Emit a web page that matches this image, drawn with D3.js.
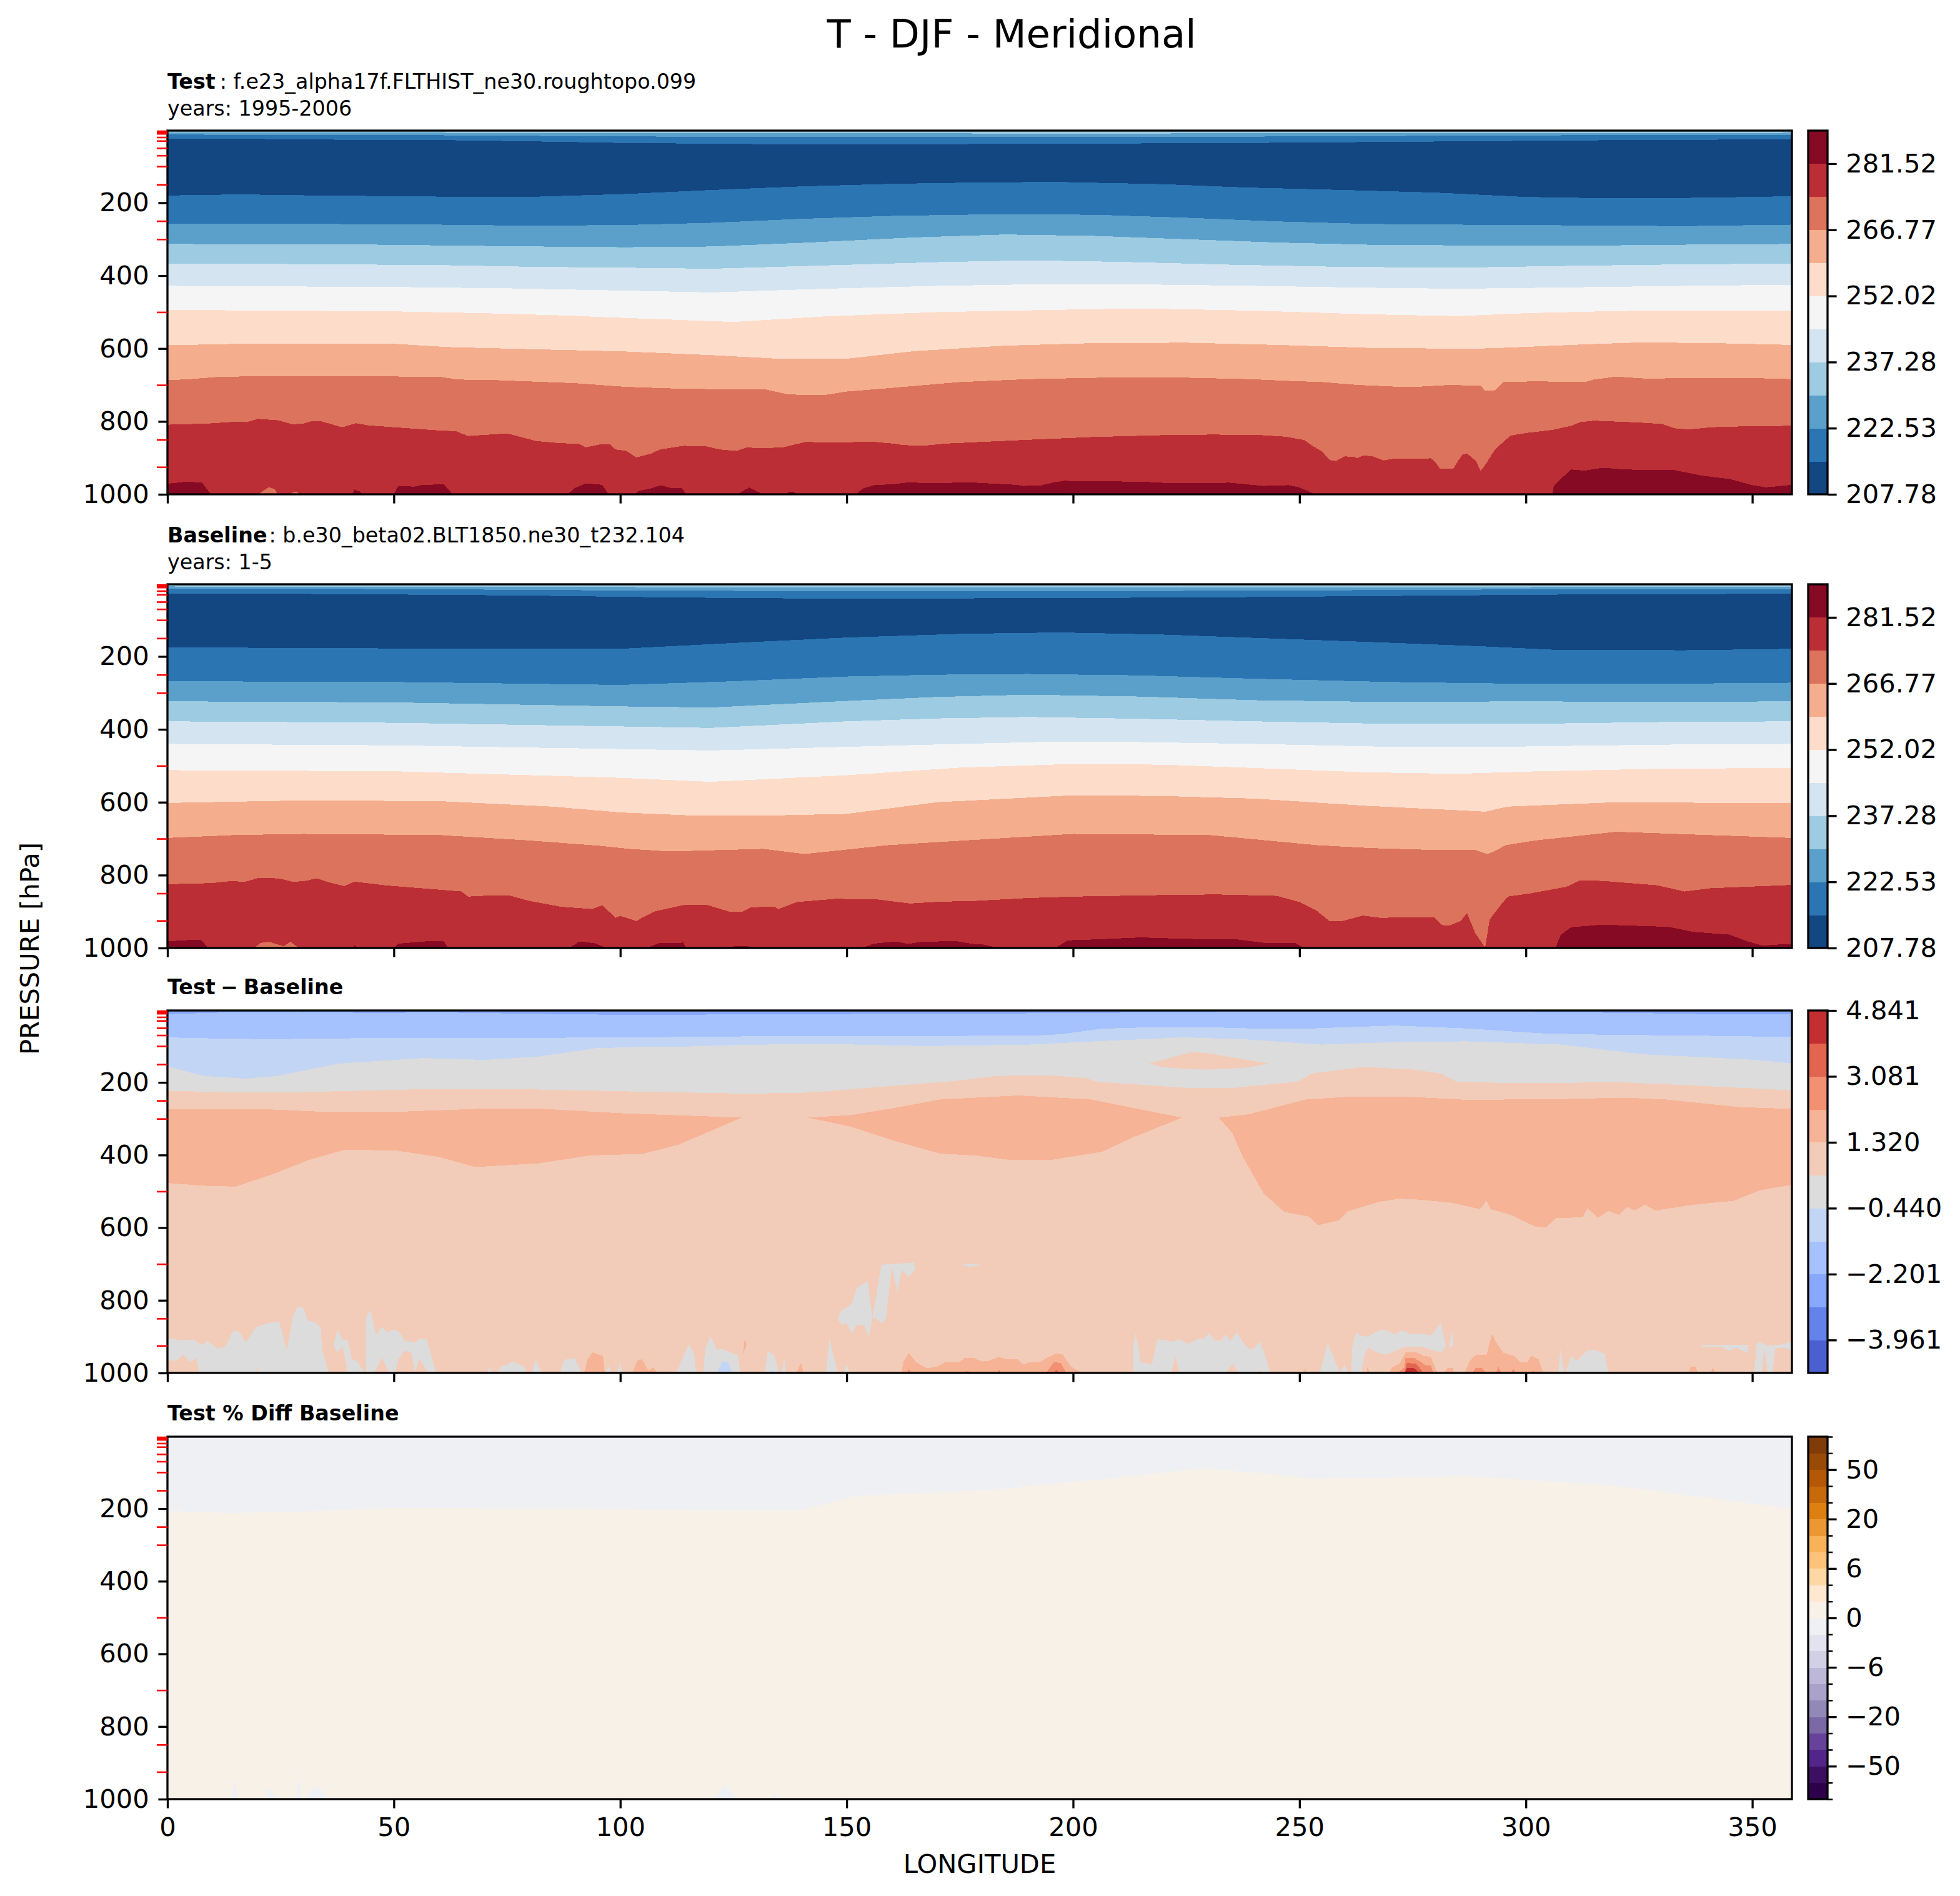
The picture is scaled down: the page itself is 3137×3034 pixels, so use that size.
<!DOCTYPE html>
<html>
<head>
<meta charset="utf-8">
<script src="https://cdn.jsdelivr.net/npm/d3@7"></script>
<style>
body { margin: 0; background: #fff; }
text { font-family: "DejaVu Sans", sans-serif; fill: #000; }
</style>
</head>
<body>
<svg id="drawing_region"></svg>
<script>
// axis values
const lonTicks = [0, 50, 100, 150, 200, 250, 300, 350];
const pressureTicks = [200, 400, 600, 800, 1000];
const pressureLevels = [3, 5, 7, 10, 20, 30, 50, 70, 100, 150, 250, 300, 500, 700, 850, 925];

// colorbar levels and colours (lowest band first)
const fieldLevels = [207.78, 215.15, 222.53, 229.90, 237.28, 244.65, 252.02, 259.40, 266.77, 274.15, 281.52, 288.90];
const fieldTicks = [207.78, 222.53, 237.28, 252.02, 266.77, 281.52];
const fieldColors = ['#134782', '#2b75b3', '#5ba0ca', '#9dcbe2', '#d4e5f1', '#f5f5f5', '#fddcca', '#f4ae8d', '#dc735c', '#bc2e35', '#870a24'];

const diffLevels = [-4.841, -3.961, -3.081, -2.201, -1.320, -0.440, 0.440, 1.320, 2.201, 3.081, 3.961, 4.841];
const diffTicks = [-3.961, -2.201, -0.440, 1.320, 3.081, 4.841];
const diffColors = ['#4a5fd0', '#6383ea', '#87a8fb', '#a5c2fe', '#c3d5f4', '#dcdcdc', '#f2ccb8', '#f6b396', '#f29072', '#e2654f', '#c32e31'];

const pctLevels = ['-100', '-75', '-50', '-40', '-30', '-20', '-15', '-10', '-6', '-4', '-2', '0', '2', '4', '6', '10', '15', '20', '30', '40', '50', '75', '100'];
const pctTicks = ['-50', '-20', '-6', '0', '6', '20', '50'];
const pctColors = ['#2d004b', '#3c0f60', '#53258a', '#66429a', '#7b69a6', '#9289b9', '#aaa2cb', '#bdb8da', '#d1d0e5', '#e2e3ee', '#eff0f4', '#f8f1e8', '#fee8cf', '#fed8a4', '#fec27a', '#f9b258', '#eb9733', '#dd8011', '#c66a0c', '#b35806', '#984a07', '#7f3b08'];

// test panel: contour edges as [longitude, pressure]
const testEdge1 = [[0,7],[60,8],[120,9],[200,10],[280,9],[358.75,8]];
const testEdge2 = [[0,13],[50,14],[100,18],[150,20],[200,20],[250,18],[300,15],[358.75,14]];
const testEdge3 = [[0,25],[20,25],[38,27],[60,28],[78,31],[101,36],[130,39],[160,40],[190,38],[220,37],[250,35],[280,32],[310,29],[340,27],[358.75,26]];
const testEdge4 = [[0,180],[16,177],[33,180],[60,183],[82,183],[101,176],[120,165],[140,155],[160,148],[180,144],[197,143],[220,149],[238,158],[260,165],[280,172],[300,184],[320,188],[340,186],[358.75,182]];
const testEdge5 = [[0,258],[33,258],[60,260],[80,263],[101,261],[120,255],[140,244],[160,236],[185,231],[205,233],[225,241],[245,251],[265,258],[285,260],[310,262],[335,264],[358.75,260]];
const testEdge6 = [[0,313],[47,315],[60,317],[82,320],[101,322],[120,320],[140,310],[165,295],[185,287],[205,291],[225,300],[245,309],[265,315],[285,317],[310,318],[335,315],[358.75,313]];
const testEdge7 = [[0,367],[25,368],[60,371],[82,376],[101,378],[120,381],[145,372],[170,363],[190,358],[210,362],[235,370],[260,376],[285,378],[310,373],[335,369],[358.75,367]];
const testEdge8 = [[0,428],[50,431],[76,435],[101,441],[120,446],[145,436],[170,428],[195,423],[215,424],[240,428],[265,433],[285,436],[310,432],[335,428],[358.75,425]];
const testEdge9 = [[0,494],[50,498],[70,503],[87,509],[101,516],[125,527],[145,512],[170,500],[195,494],[215,490],[240,496],[265,506],[285,511],[300,503],[320,497],[340,495],[358.75,495]];
const testEdge10 = [[0,591],[20,586],[50,587],[62,596],[78,601],[101,608],[120,618],[135,628],[150,628],[165,607],[185,592],[205,585],[225,584],[245,590],[265,598],[281,600],[290,600],[295,598],[314,588],[326,583],[345,586],[358.75,590]];
const testEdge11 = [[0,687],[5,684],[11,678],[19,676],[60,677],[64,685],[73,687],[90,695],[101,705],[112.5,710],[124,712],[132,712],[136.7,725],[141,728],[145,728],[150,718],[159,709],[175,692],[190,684],[210,679],[225,680],[239,684],[248,689],[255,692],[263,700],[272,705],[276,705],[283,700],[290,702],[291,716],[293,716],[294,705],[295,692],[302,690],[313,692],[315,685],[320,677],[327,683],[334,681],[350,681],[358.75,684]];
const testEdge12 = [[0,809],[8.7,806],[15,801],[17.5,802],[20,793],[24.5,797],[27.6,808],[30,806],[32,799],[34,800],[38.6,816],[41.7,805],[44.4,811],[50,816],[59,824],[63.7,827],[66.4,840],[75,833],[81.5,854],[87,860],[90.8,861],[92.4,871],[96,862],[97.7,863],[99,877],[101.4,881],[103.5,899],[106.7,889],[108.8,877],[114,867],[118.8,868],[122,877],[125.7,881],[127.8,872],[132.5,873],[136,871],[141,856],[144.7,858],[150.5,857],[155.8,856],[160.5,861],[162.6,865],[166.8,867],[171.6,861],[182,855],[192.7,849],[204,843],[219,838],[231,836],[242,838],[247,842],[251,851],[253,868],[255,883],[256.7,906],[258,909],[260,896],[262,897],[262.7,901],[264,894],[266,895],[268.6,907],[271,902],[277,903],[279,901],[280,912],[281,929],[284,929],[285,909],[286,891],[287,888],[289,909],[290,936],[291,920],[293,880],[294.6,861],[296.6,839],[300,832],[306,823],[310,812],[312,802],[315,798],[321,801],[325,803],[330,807],[333,819],[336,822],[341,816],[349.7,813],[358.75,812]];
const testWarmest = [
    [[0,1000],[0,971],[3.7,966],[7.6,967],[9.6,1000]],
    [[40.8,1000],[41.3,987],[42.6,993],[42.9,1000]],
    [[50,1000],[51,977],[54.5,979],[56,975],[61,972],[63,1000]],
    [[88.4,1000],[89.8,984],[92.4,970],[96,974],[97.4,1000]],
    [[103.2,1000],[104,991],[107,983],[109,975],[110.9,982],[113.5,982],[114.6,1000]],
    [[125.9,1000],[128.5,981],[131.5,1000]],
    [[136.5,1000],[137.3,993],[138.3,993],[139,1000]],
    [[152,1000],[153.6,984],[156.3,974],[160,973],[163.7,967],[168.4,970],[176.9,967],[184.3,972],[187.5,974],[189,977],[192.7,976],[195.9,967],[198,963],[211.7,965],[216,965],[218,968],[229.7,970],[234.4,968],[242,977],[247.6,975],[250,981],[253.5,1000]],
    [[273.4,1000],[273.8,997],[275,1000]],
    [[305.8,1000],[306.2,976],[308.5,949],[310,932],[313,935],[317,927],[322,932],[333,934],[339,949],[345,958],[349.7,974],[353,981],[358.75,974],[358.75,1000]]
];
const testCooler = [
    [[20,1000],[22.4,980],[23.7,986],[24.3,1000]],
    [[26.8,1000],[28.3,992],[29.4,1000]]
];

// baseline panel
const baseEdge1 = [[0,8],[60,9],[120,10],[200,11],[280,10],[358.75,9]];
const baseEdge2 = [[0,14],[50,15],[100,19],[150,21],[200,21],[250,19],[300,16],[358.75,15]];
const baseEdge3 = [[0,27],[40,29],[80,33],[110,38],[150,42],[190,40],[230,38],[270,34],[310,30],[358.75,28]];
const baseEdge4 = [[0,175],[50,178],[100,179],[125,163],[150,148],[175,138],[197,134],[220,140],[238,148],[265,160],[290,172],[307,182],[335,183],[358.75,179]];
const baseEdge5 = [[0,268],[50,270],[100,278],[125,268],[150,255],[170,250],[190,248],[215,252],[240,261],[270,270],[300,275],[330,275],[358.75,272]];
const baseEdge6 = [[0,323],[50,326],[100,337],[120,340],[150,322],[170,311],[190,305],[215,310],[240,320],[270,325],[300,323],[330,325],[358.75,323]];
const baseEdge7 = [[0,378],[50,382],[100,392],[120,396],[150,378],[170,370],[190,366],[215,371],[240,378],[270,385],[300,385],[330,380],[358.75,378]];
const baseEdge8 = [[0,440],[50,444],[100,454],[120,458],[150,448],[175,440],[195,434],[215,435],[240,440],[270,448],[300,447],[330,442],[358.75,440]];
const baseEdge9 = [[0,512],[50,515],[100,533],[120,544],[150,526],[175,505],[200,495],[220,497],[240,506],[265,518],[285,522],[300,516],[330,508],[358.75,506]];
const baseEdge10 = [[0,602],[30,595],[60,597],[85,612],[100,628],[115,636],[135,636],[150,632],[170,600],[200,581],[220,583],[240,590],[265,610],[285,622],[291,626],[296,612],[320,600],[358.75,603]];
const baseEdge11 = [[0,698],[15,690],[30,687],[60,690],[80,705],[95,719],[102,728],[111,735],[131.6,728],[140.7,742],[150,730],[159,718],[172,708],[200,687],[230,690],[254,718],[266,726],[277,730],[288.5,730],[291.4,742],[293,735],[295.5,718],[302,705],[320,681],[340,690],[358.75,698]];
const baseEdge12 = [[0,825],[9.7,822],[14.3,816],[17,819],[20,808],[24.6,809],[27.5,818],[30,817],[33,809],[36,821],[39,830],[41.4,818],[48,828],[57,837],[65,845],[66.4,859],[71,856],[75.5,856],[80,871],[87,887],[93.8,893],[96,883],[99,917],[100,912],[103.5,926],[107.5,900],[114.4,881],[119,881],[124,900],[127,900],[129,888],[134,887],[135,893],[139,874],[147.6,865],[157,867],[164,878],[170.5,873],[178,871],[190,863],[200,859],[219,855],[231.6,853],[245,857],[250,874],[253.7,897],[256.6,926],[259.5,926],[264,911],[267.6,917],[279.8,916],[281.5,937],[283,939],[285.6,926],[287,904],[288.8,959],[291,999],[292,922],[294.3,884],[296,859],[301,850],[309,832],[312,814],[317,816],[329,828],[335,845],[340.8,836],[358.75,827]];
const baseWarmest = [
    [[0,1000],[0,982],[3.4,979],[7.4,977],[9,1000]],
    [[41,1000],[41.2,993],[42.3,1000]],
    [[50,1000],[51,988],[57.8,981],[61,981],[62,1000]],
    [[88.7,1000],[91,982],[94.4,987],[97,1000]],
    [[105.8,1000],[108.5,987],[113.3,987],[113.8,983],[114.6,1000]],
    [[122.2,1000],[123,997],[127.6,994],[130,1000]],
    [[153.3,1000],[156,988],[161,982],[163.5,989],[166.5,983],[174,981],[178,989],[180,990],[183.4,1000]],
    [[196,1000],[198.8,979],[206,976],[215,971],[224.6,975],[236,976],[243,987],[249,986],[251,1000]],
    [[306.5,1000],[307.7,964],[310,943],[317,936],[331.5,942],[337,956],[344.8,963],[349,982],[352.4,994],[354.7,991],[358.75,989],[358.75,1000]]
];
const baseCooler = [
    [[19.2,1000],[20.6,986],[22.3,983],[25.7,995],[27.2,983],[29,1000]]
];

// test - baseline panel
const diffEdge1 = [[0,12],[12.7,7.4],[28.8,6.3],[45,8.6],[61,7.4],[79.6,10.9],[102.6,14.3],[137.2,12],[183.3,10.3],[218,7.4],[252.5,4.6],[287,4.6],[321.7,8.6],[340,12],[358.75,12]];
const diffEdge2 = [[0,76],[5.8,78],[21.9,81],[45,78],[79.6,77.5],[118.8,74.5],[137.2,72],[190.2,71.6],[197.2,67.6],[206.4,52],[217.9,48],[229.4,48],[241,52],[252.5,51.5],[271,43.5],[287,51.5],[303.2,64.7],[317,68.7],[340,71.6],[358.75,75]];
const diffEdge3 = [[0,156],[8,182],[17.3,190],[24.2,182],[38,148],[56.5,133],[70.3,138],[81.9,129],[94.5,106],[107.2,101],[115.3,101],[128,96],[148.7,95],[167.2,100],[190.2,96],[206.4,86],[224.8,76],[238.7,82],[254.8,96],[271,89],[287,87],[307.9,96],[326.3,123],[340,131],[351.7,139],[358.75,148]];
const diffEdge4 = [[0,223],[12.7,227],[28.8,227],[58.8,218],[79.6,219],[102.6,225],[128,231],[141.8,228],[155.7,214],[174,196],[183.3,182],[194.9,181],[202.9,188],[205.2,198],[224.8,215],[235.2,215],[249.7,198],[252.5,176],[264,157.5],[275.6,165],[281.3,176],[284.8,198],[296.3,202],[321.7,200],[337.8,209],[358.75,222]];
const diffLight = [
    // island above the warm lobes
    [[216.8,148],[226,117],[229.4,119],[243.3,148],[238.7,159],[229.4,165],[220.2,159]]
];
const diffWarm = [
    [[0,274],[21.9,274],[34.6,281],[50.7,281],[70.3,272],[83,273],[100.3,285],[126.8,297],[119.9,334],[113,371],[104.9,397],[93.4,401],[81.9,423],[68,433],[60,405.5],[50.7,388],[39.2,385],[31.1,414],[23,454],[15,487],[8,484.5],[0,477]],
    [[141.4,297],[151,290],[160.3,271],[170.6,247],[188,236],[204,247],[224.1,297],[213.3,351],[206.4,391],[194.9,414],[185.6,413],[178.7,401.5],[170.6,396],[160.3,360],[151,322]],
    [[232.2,297],[238.7,288],[251.4,247],[261.7,239],[273.3,239],[287,248],[307.9,246],[321.7,242],[330.9,247],[347.1,268],[358.75,273],[358.75,482],[351.7,497],[345.9,526],[336.7,537],[328.6,553],[326.3,537],[324,553],[322.4,543],[320.6,565],[318.2,554],[315.9,573],[313.6,546],[312.5,572],[306.7,573],[304.4,600],[302.1,597],[296.3,563],[292.2,549],[291.3,526],[289.9,549],[283.6,531.5],[276.7,523],[272.1,520],[267.5,529],[260.6,555.5],[258.7,580],[254.1,593],[252,569],[246.7,557],[242.1,506],[237.5,405.5],[235.2,340]]
];
const diffGrey = [
    [[0,1000],[0,905],[1.3,905],[2.4,909.5],[5.8,908],[7.6,924],[8.7,911],[11,932],[12.7,929],[14.4,887],[15,883],[16.1,891],[17.3,916],[19.6,873.5],[22.4,862],[24.7,859],[26.4,939],[27.6,848],[28.7,819],[29.9,819],[31,856],[32.5,859],[33.9,876],[34.1,934],[35.6,1000]],
    [[36.7,1000],[36.7,925],[37.5,880],[38.7,908],[39.8,908],[40.7,962],[41.9,968],[43.6,1000]],
    [[43.9,1000],[43.9,845],[44.9,826],[46,896],[47.4,873],[48.5,888],[49.9,881],[51,885],[52.4,911],[54.7,916],[55.8,905],[57.3,908],[59.3,1000]],
    [[70.5,1000],[71.2,982],[71.6,1000]],
    [[73,1000],[73.7,981],[75,978],[76.2,968],[78.7,982],[79.3,1000]],
    [[80.4,1000],[81.4,963],[82.6,1000]],
    [[86.8,1000],[87.6,964],[89.9,959],[91.4,1000]],
    [[96.8,1000],[97.4,979],[98,1000]],
    [[99.3,1000],[99.9,971],[100.5,1000]],
    [[112.4,1000],[115.1,921],[116.2,942],[116.8,1000]],
    [[118.3,1000],[118.8,931],[119.9,899],[121.4,936],[122.5,934],[126,952],[126.5,1000]],
    [[131.9,1000],[132.6,939],[134,951],[135.1,1000]],
    [[135.7,1000],[136.2,959],[136.6,1000]],
    [[145.4,1000],[146.2,905],[148,1000]],
    [[149.4,1000],[150,976],[150.6,1000]],
    // block rising above the surface
    [[148,851],[148.9,828],[151.1,810],[152.3,765],[154.6,747],[155.7,848],[157.7,702],[164.9,696],[165.1,716],[163.7,736],[162.2,716],[161.2,779],[160,707],[158.6,853],[157.7,863],[156.6,851],[155.7,848],[154.9,901],[153.8,867],[152.3,867],[151.1,891],[150,863],[148.9,867]],
    [[175.4,702],[177.3,698],[179.5,702],[177.3,708]],
    [[213.3,1000],[213.3,924],[213.8,893],[214.5,933],[214.9,970],[217.4,976],[218.6,907],[220.5,910],[221.7,914],[223.5,908],[225.4,920],[227.5,906],[228.8,906],[230.1,890],[231.3,910],[232.5,911],[233.8,893],[234.6,913],[236.2,887],[237.5,916],[238.9,934],[239.9,933],[241.2,913],[242.4,950],[243.5,1000]],
    [[254.5,1000],[256.2,918],[257.7,962],[258.9,1000]],
    [[258.9,1000],[259.9,978],[260.8,1000]],
    [[261.4,1000],[261.7,924],[262.6,887],[263.3,897],[265.1,900],[267.9,881],[269.5,884],[271,893],[272.6,883],[274.7,893],[277.1,892],[279,897],[280.2,879],[281.2,861],[282.3,924],[281.5,943],[279,936],[277.1,928],[273.4,928],[271.7,936],[269.1,950],[267.3,944],[265.1,931],[264.2,956],[263.6,1000]],
    [[283,927],[283.7,884],[284,927]],
    [[307.2,1000],[307.6,936],[308.5,1000]],
    [[308.8,1000],[310,953],[311.3,967],[313.5,939],[315.1,936],[317.4,947],[318.2,1000]],
    [[338.8,924],[339.7,923],[349.2,923],[348.9,946],[346.5,930],[344.9,940],[343.1,927],[338.8,928]],
    [[350.5,1000],[350.9,922],[351.5,915],[353.2,924],[356,923],[358.75,914],[358.75,938],[357.5,932],[355.1,932],[354.4,1000],[353.4,1000],[352.6,933],[352.1,1000]]
];
const diffSpikes = [
    [[0,1000],[0,965],[1.8,967],[3.5,950],[5,970],[6.4,959],[7,1000]],
    [[19.6,1000],[19.9,976],[20,1000]],
    [[36.7,925],[37.5,943],[38.7,928],[39.4,968],[39.8,1000],[36.7,1000]],
    [[45.5,1000],[46.5,979],[47.4,959],[49,1000]],
    [[50.3,1000],[51,962],[52.4,938],[53.9,945],[54.7,1000],[55.6,962],[56.2,971],[57.6,1000]],
    [[221.7,1000],[222.6,953],[223.5,1000]],
    [[233.8,1000],[235.2,974],[236.5,1000]],
    [[241,1000],[241.3,982],[241.5,1000]]
];
const diffCool = [
    [[121.4,1000],[122.5,968],[123.7,969],[124.8,1000]],
    [[133.1,1000],[133.6,992],[134.2,1000]]
];
const diffOrange = [
    [[92,1000],[92.8,962],[93.9,943],[96.2,954],[96.6,1000]],
    [[102.7,1000],[103.7,967],[104.8,962],[106.2,994],[107.3,985],[108.2,1000]],
    [[127.1,948],[127.5,905],[127.9,925]],
    [[138.9,1000],[139.9,972],[140.5,1000]],
    [[162,1000],[162.6,968],[163.7,945],[165.4,971],[167.7,987],[170,983],[171.8,970],[174.9,970],[176.1,958],[178,958],[179.8,968.5],[181.3,967],[183.7,956],[185.3,963],[187.8,963],[189,977],[190.3,971],[192.7,970],[194.6,956],[196.4,946],[197.7,949],[199.5,982],[200.1,987],[202.2,1000]],
    [[250.9,1000],[251.3,987],[251.6,1000]],
    [[264.8,1000],[265.1,979],[265.4,1000]],
    [[269.7,1000],[270.4,986],[272.2,973],[273.4,943],[275.9,944],[277.4,953],[279,956],[280.2,993],[280.8,1000]],
    [[281.8,1000],[282.7,986],[283.9,986],[284.1,1000]],
    [[286.5,1000],[287.6,967],[288.8,951],[291.3,950],[292.5,893],[293.8,924],[295,944],[297.5,954],[298.7,970],[300.3,970],[301.2,953],[302.8,962],[303.8,1000]],
    [[336,1000],[336.3,983],[337.5,982],[337.9,1000]],
    [[340.8,1000],[341.3,986],[341.8,1000]]
];
const diffHot = [
    [[163.4,1000],[163.7,987],[164.2,1000]],
    [[175.8,1000],[176.7,994],[177.6,1000]],
    [[183.2,1000],[183.7,991],[184.2,1000]],
    [[194,1000],[195.8,970],[197.3,973],[198.5,1000]],
    [[271.6,1000],[273.2,985],[273.4,958],[275.3,959],[276.9,970],[277.8,979],[279,979],[279.6,1000]],
    [[288.2,1000],[288.8,987],[290.3,987],[291.3,1000]],
    [[293.4,1000],[293.9,982],[294.6,1000]],
    [[296.6,1000],[297.3,989],[297.8,1000]],
    [[301.2,1000],[301.6,994],[302,1000]]
];
const diffHotter = [
    [[195.8,1000],[196.3,991],[196.9,1000]],
    [[273.2,1000],[273.7,973],[275.7,974],[276.5,986],[277.4,1000]]
];
const diffHottest = [
    [[273.2,1000],[273.7,987],[275.3,987],[276.5,1000]]
];

// percent difference panel
const pctEdge1 = [[0,206],[14,212],[30,208],[50,198],[87,200],[120,205],[140,205],[152,165],[180,150],[194,134],[210,115],[228,89],[240,100],[252,117],[270,115],[286,110],[305,125],[322,141],[340,170],[358.75,200]];
const pctCool = [
    [[14.1,1000],[14.9,944],[15.5,1000]],
    [[21.8,1000],[22.4,966],[23.9,1000]],
    [[28.4,1000],[28.9,926],[29.7,1000]],
    [[30.3,1000],[32.3,966],[33.9,970],[35.1,1000]],
    [[121,1000],[123,960],[126,1000]],
    [[133,1000],[134,985],[135,1000]]
];

const config = {
    width: 3137,
    height: 3034,
    left: 268,
    right: 2868,
    bar_left: 2894,
    bar_width: 31
};

const panels = [
    {
        top: 209, bottom: 791,
        base: fieldColors[3],
        edges: [[testEdge1, fieldColors[2]], [testEdge2, fieldColors[1]], [testEdge3, fieldColors[0]], [testEdge4, fieldColors[1]], [testEdge5, fieldColors[2]], [testEdge6, fieldColors[3]], [testEdge7, fieldColors[4]], [testEdge8, fieldColors[5]], [testEdge9, fieldColors[6]], [testEdge10, fieldColors[7]], [testEdge11, fieldColors[8]], [testEdge12, fieldColors[9]]],
        patches: [[testWarmest, fieldColors[10]], [testCooler, fieldColors[8]]],
        levels: fieldLevels, colors: fieldColors, ticks: fieldTicks,
        title: [['Test', true], [': f.e23_alpha17f.FLTHIST_ne30.roughtopo.099', false]],
        title_gap: 7,
        years: 'years: 1995-2006', title_y: 142, years_y: 185
    },
    {
        top: 935, bottom: 1517,
        base: fieldColors[3],
        edges: [[baseEdge1, fieldColors[2]], [baseEdge2, fieldColors[1]], [baseEdge3, fieldColors[0]], [baseEdge4, fieldColors[1]], [baseEdge5, fieldColors[2]], [baseEdge6, fieldColors[3]], [baseEdge7, fieldColors[4]], [baseEdge8, fieldColors[5]], [baseEdge9, fieldColors[6]], [baseEdge10, fieldColors[7]], [baseEdge11, fieldColors[8]], [baseEdge12, fieldColors[9]]],
        patches: [[baseWarmest, fieldColors[10]], [baseCooler, fieldColors[8]]],
        levels: fieldLevels, colors: fieldColors, ticks: fieldTicks,
        title: [['Baseline', true], [': b.e30_beta02.BLT1850.ne30_t232.104', false]],
        title_gap: 3,
        years: 'years: 1-5', title_y: 868, years_y: 911
    },
    {
        top: 1617, bottom: 2197,
        base: diffColors[2],
        edges: [[diffEdge1, diffColors[3]], [diffEdge2, diffColors[4]], [diffEdge3, diffColors[5]], [diffEdge4, diffColors[6]]],
        patches: [[diffLight, diffColors[6]], [diffWarm, diffColors[7]], [diffGrey, diffColors[5]], [diffSpikes, diffColors[6]], [diffCool, diffColors[4]], [diffOrange, diffColors[7]], [diffHot, diffColors[8]], [diffHotter, diffColors[9]], [diffHottest, diffColors[10]]],
        levels: diffLevels, colors: diffColors, ticks: diffTicks,
        title: [['Test \u2212 Baseline', true]],
        word_spacing: -3,
        title_y: 1591
    },
    {
        top: 2299, bottom: 2879,
        base: pctColors[10],
        edges: [[pctEdge1, pctColors[11]]],
        patches: [[pctCool, pctColors[10]]],
        levels: pctLevels, colors: pctColors, ticks: pctTicks, minor: true,
        title: [['Test % Diff Baseline', true]],
        title_y: 2273,
        last: true
    }
];

class ContourPanel {

    constructor( config, panel, index ) {
        this.config = config;
        this.panel = panel;
        this.index = index;
        this.init();
    }

    init() {
        let self = this;

        self.inner_width = self.config.right - self.config.left;
        self.inner_height = self.panel.bottom - self.panel.top;

        self.xscale = d3.scaleLinear()
            .domain( [0, 358.75] )
            .range( [0, self.inner_width] );

        self.yscale = d3.scaleLinear()
            .domain( [2, 1000] )
            .range( [0, self.inner_height] );

        self.chart = svg.append('g')
            .attr('transform', `translate(${self.config.left}, ${self.panel.top})`);

        svg.select('defs').append('clipPath')
            .attr('id', `clip${self.index}`)
            .append('rect')
            .attr('width', self.inner_width)
            .attr('height', self.inner_height);
    }

    render() {
        let self = this;

        const fields = self.chart.append('g')
            .attr('clip-path', `url(#clip${self.index})`)
            .attr('shape-rendering', 'crispEdges');

        fields.append('rect')
            .attr('width', self.inner_width)
            .attr('height', self.inner_height)
            .attr('fill', self.panel.base);

        const area = d3.area()
            .x( d => self.xscale( d[0] ) )
            .y0( self.inner_height )
            .y1( d => self.yscale( d[1] ) );

        fields.selectAll('path.band')
            .data( self.panel.edges )
            .enter()
            .append('path')
            .attr('class', 'band')
            .attr('d', d => area( d[0] ))
            .attr('fill', d => d[1]);

        const line = d3.line()
            .x( d => self.xscale( d[0] ) )
            .y( d => self.yscale( d[1] ) );

        self.panel.patches.forEach( group => {
            fields.append('g')
                .selectAll('path')
                .data( group[0] )
                .enter()
                .append('path')
                .attr('d', d => line( d ) + 'Z')
                .attr('fill', group[1]);
        });

        self.renderAxes();
        self.renderColorbar();
        self.renderTitle();
    }

    renderAxes() {
        let self = this;

        self.chart.append('rect')
            .attr('width', self.inner_width)
            .attr('height', self.inner_height)
            .attr('fill', 'none')
            .attr('stroke', '#000')
            .attr('stroke-width', 3.3);

        const xaxis = d3.axisBottom( self.xscale )
            .tickValues( lonTicks )
            .tickSize( 14.6 )
            .tickPadding( 14.6 )
            .tickFormat( d => self.panel.last ? d : '' );

        const yaxis = d3.axisLeft( self.yscale )
            .tickValues( pressureTicks )
            .tickSize( 14.6 )
            .tickPadding( 14.6 )
            .tickFormat( d3.format('d') );

        const redaxis = d3.axisLeft( self.yscale )
            .tickValues( pressureLevels )
            .tickSize( 17 )
            .tickFormat( '' );

        const xgroup = self.chart.append('g')
            .attr('transform', `translate(0, ${self.inner_height})`)
            .call( xaxis );
        const ygroup = self.chart.append('g').call( yaxis );
        const redgroup = self.chart.append('g').call( redaxis );

        [xgroup, ygroup, redgroup].forEach( g => {
            g.select('.domain').remove();
            g.selectAll('text').attr('font-size', 41.67).attr('font-family', '"DejaVu Sans"');
            g.selectAll('line').attr('stroke-width', 3.3);
        });
        redgroup.selectAll('line').attr('stroke', '#ff0000').attr('stroke-width', 2.6);
    }

    renderColorbar() {
        let self = this;

        const bar = self.chart.append('g')
            .attr('transform', `translate(${self.config.bar_left - self.config.left}, 0)`);

        const levels = self.panel.levels;
        let scale;
        if ( self.panel.minor ) {
            scale = d3.scalePoint().domain( levels ).range( [self.inner_height, 0] );
        } else {
            scale = d3.scaleLinear()
                .domain( [levels[0], levels[levels.length - 1]] )
                .range( [self.inner_height, 0] );
        }

        bar.selectAll('rect.level')
            .data( self.panel.colors )
            .enter()
            .append('rect')
            .attr('class', 'level')
            .attr('x', 0)
            .attr('y', (d, i) => scale( levels[i + 1] ))
            .attr('width', self.config.bar_width)
            .attr('height', (d, i) => scale( levels[i] ) - scale( levels[i + 1] ) + 0.5)
            .attr('fill', d => d)
            .attr('shape-rendering', 'crispEdges');

        bar.append('rect')
            .attr('width', self.config.bar_width)
            .attr('height', self.inner_height)
            .attr('fill', 'none')
            .attr('stroke', '#000')
            .attr('stroke-width', 3.3);

        const format = self.panel.minor
            ? d => String( d ).replace('-', '\u2212')
            : d => ( self.panel.levels === diffLevels ? d3.format('.3f')( d ) : d3.format('.2f')( d ) ).replace('-', '\u2212');

        const axis = d3.axisRight( scale )
            .tickValues( self.panel.ticks )
            .tickSize( 14.6 )
            .tickPadding( 14.6 )
            .tickFormat( format );

        const group = bar.append('g')
            .attr('transform', `translate(${self.config.bar_width}, 0)`)
            .call( axis );
        group.select('.domain').remove();
        group.selectAll('text').attr('font-size', 41.67).attr('font-family', '"DejaVu Sans"');
        group.selectAll('line').attr('stroke-width', 3.3);

        if ( self.panel.minor ) {
            const minor = d3.axisRight( scale )
                .tickValues( levels.filter( d => !self.panel.ticks.includes( d ) ) )
                .tickSize( 8.3 )
                .tickFormat( '' );
            const minor_group = bar.append('g')
                .attr('transform', `translate(${self.config.bar_width}, 0)`)
                .call( minor );
            minor_group.select('.domain').remove();
            minor_group.selectAll('line').attr('stroke-width', 2.5);
        }
    }

    renderTitle() {
        let self = this;

        const title = svg.append('text')
            .attr('x', self.config.left)
            .attr('y', self.panel.title_y)
            .attr('font-size', 33.33)
            .attr('word-spacing', self.panel.word_spacing || 0);

        title.selectAll('tspan')
            .data( self.panel.title )
            .enter()
            .append('tspan')
            .attr('dx', (d, i) => i > 0 ? self.panel.title_gap : 0)
            .attr('font-weight', d => d[1] ? 'bold' : 'normal')
            .text( d => d[0] );

        if ( self.panel.years ) {
            svg.append('text')
                .attr('x', self.config.left)
                .attr('y', self.panel.years_y)
                .attr('font-size', 33.33)
                .text( self.panel.years );
        }
    }
}

const svg = d3.select('#drawing_region')
    .attr('width', config.width)
    .attr('height', config.height)
    .style('display', 'block');

svg.append('defs');

svg.append('text')
    .attr('x', 1619)
    .attr('y', 76)
    .attr('text-anchor', 'middle')
    .attr('font-size', 62.5)
    .text('T - DJF - Meridional');

svg.append('text')
    .attr('x', 1568)
    .attr('y', 2997)
    .attr('text-anchor', 'middle')
    .attr('font-size', 41.67)
    .text('LONGITUDE');

svg.append('text')
    .attr('transform', 'translate(62, 1518) rotate(-90)')
    .attr('text-anchor', 'middle')
    .attr('font-size', 41.67)
    .text('PRESSURE [hPa]');

panels.forEach( (panel, i) => {
    const contour_panel = new ContourPanel( config, panel, i );
    contour_panel.render();
});
</script>
</body>
</html>
